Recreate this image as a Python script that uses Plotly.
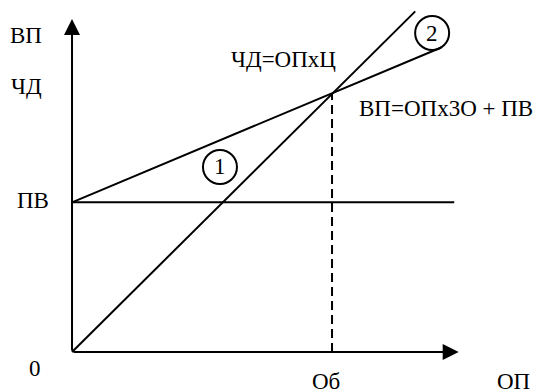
import plotly.graph_objects as go

# values (x: volume, Об = 1; y: revenue/costs at break-even = 1)
pv_level = 0.58                      # fixed costs ПВ
pv_x = [0, 1.47]
pv_y = [pv_level, pv_level]
vp_x = [0, 1.42]                     # line 1: ВП = ОП x ЗО + ПВ
vp_y = [0.58, 1.18]
chd_x = [0, 1.32]                    # line 2: ЧД = ОП x Ц
chd_y = [0, 1.32]
ob_x = [1, 1]                        # break-even volume Об
ob_y = [0, 1]

font = dict(family="Liberation Serif", size=23, color="black")
line = dict(color="black", width=2)

fig = go.Figure()
fig.add_trace(go.Scatter(x=pv_x, y=pv_y, mode="lines", line=line))
fig.add_trace(go.Scatter(x=vp_x, y=vp_y, mode="lines", line=line))
fig.add_trace(go.Scatter(x=chd_x, y=chd_y, mode="lines", line=line))
fig.add_trace(go.Scatter(x=ob_x, y=ob_y, mode="lines",
                         line=dict(color="black", width=2, dash="9px,5px")))

# axes with arrows
for x, y in [(1.487, 0), (0, 1.29)]:
    fig.add_annotation(x=x, y=y, ax=0, ay=0, xref="x", yref="y", axref="x", ayref="y",
                       text="", showarrow=True, arrowhead=2, arrowsize=1.6,
                       arrowwidth=2, arrowcolor="black")

labels = [
    (-0.177, 1.225, "ВП"), (-0.177, 1.03, "ЧД"), (-0.15, 0.589, "ПВ"),
    (-0.142, -0.062, "0"), (0.977, -0.115, "Об"), (1.696, -0.115, "ОП"),
    (0.815, 1.132, "ЧД=ОПхЦ"), (1.44, 0.942, "ВП=ОПх3О + ПВ"),
    (0.569, 0.717, "1"), (1.385, 1.236, "2"),
]
for x, y, t in labels:
    fig.add_annotation(x=x, y=y, text=t, showarrow=False, font=font)

for cx, cy in [(0.569, 0.717), (1.385, 1.236)]:
    fig.add_shape(type="circle", xref="x", yref="y", xsizemode="pixel", ysizemode="pixel",
                  xanchor=cx, yanchor=cy, x0=-17, x1=17, y0=-17, y1=17,
                  line=dict(color="black", width=2))

fig.update_xaxes(range=[-0.277, 1.796], visible=False)
fig.update_yaxes(range=[-0.155, 1.364], visible=False)
fig.update_layout(width=539, height=392, margin=dict(l=0, r=0, t=0, b=0),
                  plot_bgcolor="white", paper_bgcolor="white", showlegend=False,
                  font=font)

# drop the page margin / scrollbar so the figure fills the window exactly
fig.write_html("out.html", config={"displayModeBar": False},
               post_script="document.body.style.margin='0';document.body.style.overflow='hidden';")
